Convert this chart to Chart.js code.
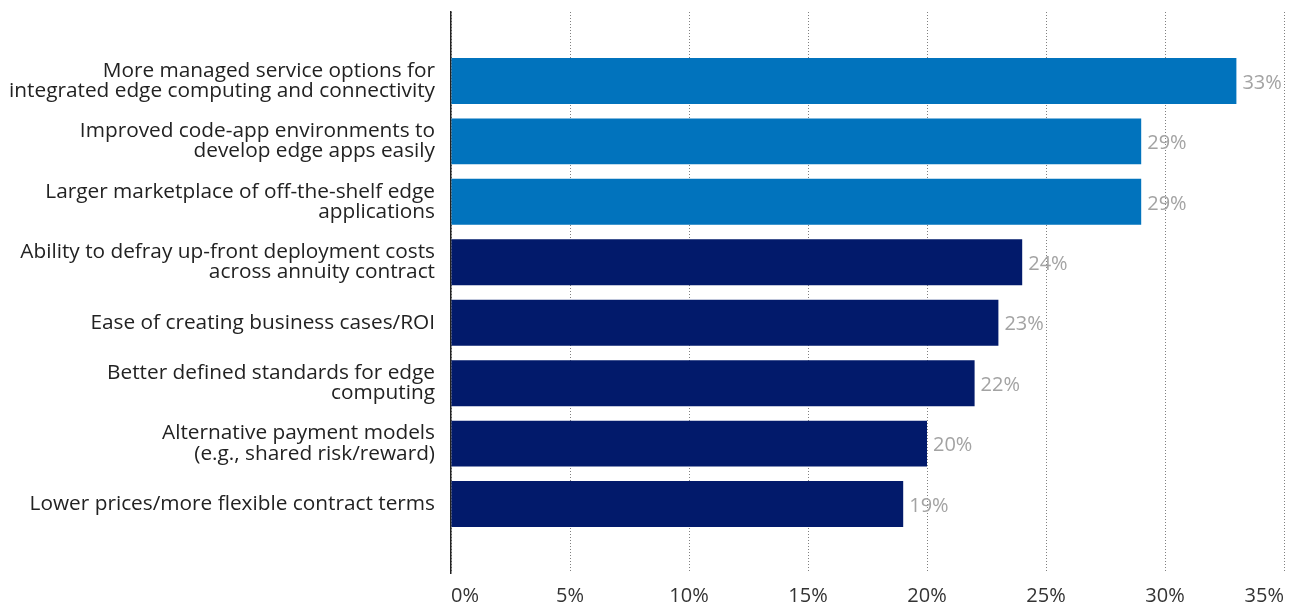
<!DOCTYPE html>
<html>
<head>
<meta charset="utf-8">
<style>
  html, body { margin: 0; padding: 0; background: #fff; }
  #wrap { width: 1296px; height: 607px; position: relative; }
</style>
<script src="https://cdn.jsdelivr.net/npm/chart.js@4/dist/chart.umd.min.js"></script>
</head>
<body>
<div id="wrap"><canvas id="chart"></canvas></div>
<script>
const categories = [
  "More managed service options for\nintegrated edge computing and connectivity",
  "Improved code-app environments to\ndevelop edge apps easily",
  "Larger marketplace of off-the-shelf edge\napplications",
  "Ability to defray up-front deployment costs\nacross annuity contract",
  "Ease of creating business cases/ROI",
  "Better defined standards for edge\ncomputing",
  "Alternative payment models\n(e.g., shared risk/reward)",
  "Lower prices/more flexible contract terms"
];
const values = [33, 29, 29, 24, 23, 22, 20, 19];
const highlighted = [true, true, true, false, false, false, false, false];
const xTicks = [0, 5, 10, 15, 20, 25, 30, 35];

const LIGHT = "#0173bd";
const DARK = "#021a6b";
const FONT = "'Open Sans', 'Noto Sans', sans-serif";

const valueLabels = {
  id: "valueLabels",
  afterDatasetsDraw(chart) {
    const ctx = chart.ctx;
    const meta = chart.getDatasetMeta(0);
    ctx.save();
    ctx.font = "20px " + FONT;
    ctx.fillStyle = "#a3a3a3";
    ctx.textAlign = "left";
    ctx.textBaseline = "middle";
    meta.data.forEach((bar, i) => {
      ctx.fillText(values[i] + "%", bar.x + 6, bar.y + 2);
    });
    ctx.restore();
  }
};

new Chart(document.getElementById("chart"), {
  type: "bar",
  data: {
    datasets: [{
      data: values.map((v, i) => ({ x: v, y: i })),
      backgroundColor: highlighted.map(h => h ? LIGHT : DARK),
      barPercentage: 0.76,
      categoryPercentage: 1
    }]
  },
  options: {
    indexAxis: "y",
    responsive: true,
    maintainAspectRatio: false,
    animation: false,
    layout: { padding: { top: 12, right: 12, left: 0, bottom: 0 } },
    plugins: { legend: { display: false }, tooltip: { enabled: false } },
    scales: {
      x: {
        type: "linear",
        min: 0,
        max: 35,
        afterBuildTicks: scale => { scale.ticks = xTicks.map(v => ({ value: v })); },
        afterFit: scale => {
          scale.height = 34;
          scale.paddingLeft = 0;
          scale.paddingRight = 0;
        },
        grid: { color: "#808080", lineWidth: 1, drawTicks: false },
        border: { display: false, dash: [1, 2] },
        ticks: {
          align: "inner",
          padding: 11,
          color: "#333",
          font: { family: FONT, size: 20 },
          callback: v => v + "%"
        }
      },
      y: {
        type: "linear",
        reverse: true,
        offset: false,
        bounds: "data",
        min: -1.14,
        max: 8.14,
        afterBuildTicks: scale => { scale.ticks = categories.map((_, i) => ({ value: i })); },
        afterFit: scale => {
          scale.width = 451;
          scale.paddingTop = 0;
          scale.paddingBottom = 0;
        },
        grid: { display: false, drawTicks: false, offset: false },
        border: { display: true, color: "#222", width: 1.5 },
        ticks: {
          padding: 16,
          color: "#222",
          font: { family: FONT, size: 20.8, lineHeight: 0.98 },
          callback: v => categories[v] ? categories[v].split("\n") : ""
        }
      }
    }
  },
  plugins: [valueLabels]
});
</script>
</body>
</html>
